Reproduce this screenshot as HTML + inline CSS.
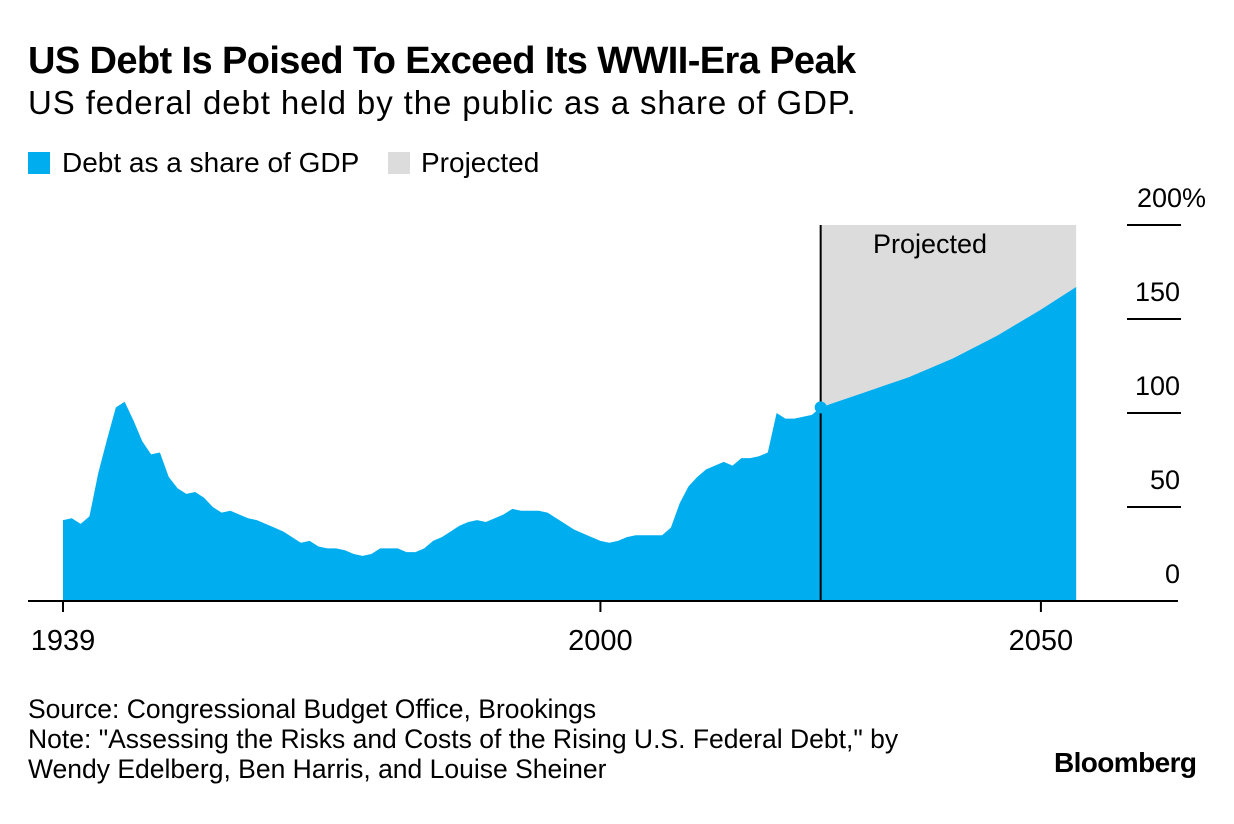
<!DOCTYPE html>
<html><head><meta charset="utf-8"><style>
body{margin:0;background:#fff;width:1234px;height:824px;overflow:hidden;font-family:"Liberation Sans",Arial,sans-serif;color:#000}
.t{position:absolute;white-space:nowrap}
</style></head><body>
<div class="t" style="left:28px;top:40px;font-size:38px;font-weight:bold;letter-spacing:-0.6px">US Debt Is Poised To Exceed Its WWII-Era Peak</div>
<div class="t" style="left:28px;top:84px;font-size:33px;letter-spacing:0.9px">US federal debt held by the public as a share of GDP.</div>
<div class="t" style="left:28px;top:147px;font-size:28px"><span style="display:inline-block;width:22px;height:22px;background:#00aeef;margin-right:12px;vertical-align:-2px"></span>Debt as a share of GDP</div>
<div class="t" style="left:388px;top:147px;font-size:28px"><span style="display:inline-block;width:22px;height:22px;background:#dcdcdc;margin-right:11px;vertical-align:-2px"></span>Projected</div>
<svg width="1234" height="824" style="position:absolute;left:0;top:0" id="svg"></svg>
<div class="t" style="left:28px;top:694px;font-size:26.5px;line-height:30px">Source: Congressional Budget Office, Brookings<br>Note: "Assessing the Risks and Costs of the Rising U.S. Federal Debt," by<br>Wendy Edelberg, Ben Harris, and Louise Sheiner</div>
<div class="t" style="left:1054px;top:747px;font-size:28px;font-weight:bold;letter-spacing:-0.6px">Bloomberg</div>
<script>
const histYears=[1939,1940,1941,1942,1943,1944,1945,1946,1947,1948,1949,1950,1951,1952,1953,1954,1955,1956,1957,1958,1959,1960,1961,1962,1963,1964,1965,1966,1967,1968,1969,1970,1971,1972,1973,1974,1975,1976,1977,1978,1979,1980,1981,1982,1983,1984,1985,1986,1987,1988,1989,1990,1991,1992,1993,1994,1995,1996,1997,1998,1999,2000,2001,2002,2003,2004,2005,2006,2007,2008,2009,2010,2011,2012,2013,2014,2015,2016,2017,2018,2019,2020,2021,2022,2023,2024,2025];
const histValues=[43,44,41,45,68,86,103,106,96,85,78,79,66,60,57,58,55,50,47,48,46,44,43,41,39,37,34,31,32,29,28,28,27,25,24,25,28,28,28,26,26,28,32,34,37,40,42,43,42,44,46,49,48,48,48,47,44,41,38,36,34,32,31,32,34,35,35,35,35,39,52,61,66,70,72,74,72,76,76,77,79,100,97,97,98,99,103];
const projYears=[2025,2030,2035,2040,2045,2050,2054];
const projValues=[103,111,119,129,141,155,167];
const yTicks=[0,50,100,150,200];
const xTicks=[1939,2000,2050];
const X=y=>63+(y-1939)*8.81, Y=v=>601-v*1.88;
const s=document.getElementById('svg'),NS='http://www.w3.org/2000/svg';
function mk(t,a){const e=document.createElementNS(NS,t);for(const k in a)e.setAttribute(k,a[k]);s.appendChild(e);return e;}
let g=mk('rect',{x:X(2025),y:Y(200),width:X(2054)-X(2025),height:Y(0)-Y(200),fill:'#dcdcdc'});


let d='M'+X(1939)+','+Y(0);
histYears.forEach((y,i)=>{if(histValues[i]!==undefined)d+='L'+X(y)+','+Y(histValues[i]);});
projYears.forEach((y,i)=>d+='L'+X(y)+','+Y(projValues[i]));
d+='L'+X(2054)+','+Y(0)+'Z';
let a=mk('path',{d:d,fill:'#00aeef'});


let v=mk('line',{x1:X(2025),x2:X(2025),y1:Y(200),y2:Y(0),stroke:'#000','stroke-width':2});


let c=mk('circle',{cx:X(2025),cy:Y(projValues[0]),r:6,fill:'#00aeef'});


let pt=mk('text',{x:930,y:253,'font-size':27,'text-anchor':'middle','font-family':'Liberation Sans'});pt.textContent='Projected';


let b=mk('line',{x1:28,x2:1178,y1:Y(0),y2:Y(0),stroke:'#000','stroke-width':2});


xTicks.forEach(t=>{let l=mk('line',{x1:X(t),x2:X(t),y1:Y(0),y2:Y(0)+11,stroke:'#000','stroke-width':2});


let tx=mk('text',{x:X(t),y:650,'font-size':29,'text-anchor':'middle','font-family':'Liberation Sans'});tx.textContent=t;

});
yTicks.forEach(t=>{if(t>0){let l=mk('line',{x1:1127,x2:1181,y1:Y(t),y2:Y(t),stroke:'#000','stroke-width':2});

}
let tx=mk('text',{x:t==200?1206:1180,y:Y(t)-18,'font-size':27,'text-anchor':'end','font-family':'Liberation Sans'});tx.textContent=t==200?'200%':t;

});
</script>
</body></html>
